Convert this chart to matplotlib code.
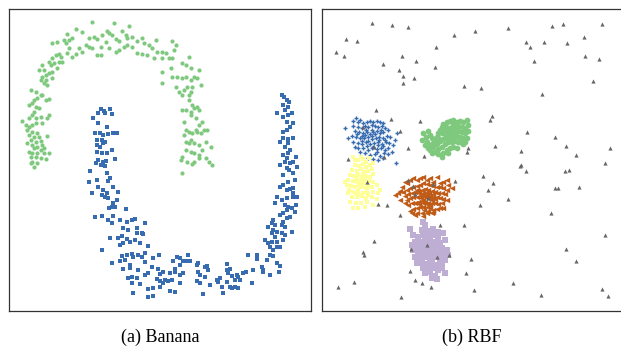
import numpy as np
import matplotlib
matplotlib.use("Agg")
import matplotlib.pyplot as plt

# point positions; each list was read from a 3x crop,
# so the numbers are crop pixels and get shifted back with to_px()

# --- Banana (crop at 9,15) ---
banana_green = [
    (250,22),(316,25),(360,33),(200,43),(220,50),(175,58),(190,70),(240,68),(255,65),(265,72),
    (280,60),(295,48),(300,55),(310,60),(320,72),(330,78),(340,48),(350,60),(355,68),(370,65),
    (385,78),(400,68),(405,85),(420,90),(430,100),(440,75),(445,110),(460,110),(470,115),(490,78),
    (495,105),(500,90),(480,130),(490,128),(460,130),(435,130),(415,120),(400,118),(385,115),(370,95),
    (355,90),(345,95),(330,105),(320,110),(300,100),(290,80),(275,95),(265,120),(275,120),(250,100),
    (240,95),(230,90),(220,110),(210,100),(200,118),(190,125),(175,115),(180,100),(170,85),(165,75),
    (180,75),(140,120),(150,118),(130,130),(120,140),(125,150),(135,145),(150,140),(145,160),(130,170),
    (120,175),(110,180),(100,185),(95,195),(105,205),(110,195),(115,210),(130,190),(100,150),(90,165),
    (105,165),(130,85),(145,80),(155,125),(160,140),
    (520,145),(530,150),(540,125),(545,158),(555,185),(570,165),(565,190),(545,195),(530,185),(520,190),
    (505,185),(490,185),(485,160),(460,170),(460,205),(500,215),(510,230),(520,240),(525,225),(535,215),
    (540,240),(545,230),(550,215),(575,210),(540,255),(550,270),(555,280),(565,275),(570,285),(545,290),
    (530,285),(520,285),(525,320),(545,300),(560,310),(570,330),(580,320),(560,345),(550,355),(540,350),
    (565,350),(575,355),(585,345),(595,345),(530,345),(525,360),(530,380),(540,385),(545,375),(555,385),
    (570,390),(590,380),(605,395),(530,405),(545,410),(555,415),(570,420),(580,405),(520,425),(515,435),
    (535,440),(550,448),(555,440),(570,430),(590,430),(600,440),(610,450),(520,475),
    (65,225),(80,232),(95,240),(85,248),(100,240),(110,255),(120,252),(75,255),(60,270),(70,265),
    (80,275),(90,280),(75,290),(70,300),(60,310),(80,310),(95,305),(120,300),(115,310),(40,318),
    (50,330),(60,335),(70,330),(80,325),(100,325),(55,345),(70,350),(85,355),(60,360),(75,365),
    (90,365),(115,362),(65,375),(80,380),(95,378),(55,385),(70,390),(85,395),(100,390),(75,400),
    (95,405),(105,400),(60,410),(70,415),(85,415),(105,415),(120,413),(65,425),(80,425),(95,430),
    (110,432),(70,440),(85,445),(75,455),(65,445),
]

# --- Banana (crop at 80,90) ---
banana_blue = [
    (62,58),(72,62),(90,58),(55,70),(75,68),(97,72),(40,85),(55,98),(80,112),(45,128),
    (60,130),(70,135),(85,132),(100,130),(110,128),(50,150),(65,150),(75,155),(50,165),(60,170),
    (70,160),(52,185),(65,190),(80,188),(95,180),(55,210),(70,215),(78,213),(62,225),(75,228),
    (48,220),(80,248),(105,208),(30,243),(28,275),(50,270),(85,272),(90,265),(55,290),(35,308),
    (70,300),(80,308),(100,292),(115,305),(65,315),(75,322),(85,325),(100,338),(110,330),(95,350),
    (105,350),(88,355),(45,380),(65,378),(98,378),(138,358),(85,390),(95,400),(120,390),(140,395),
    (155,390),(165,388),(130,415),(145,420),(170,415),(195,400),(90,445),(115,445),(125,438),(140,448),
    (130,460),(120,465),(150,455),(165,450),(180,460),(190,432),(185,428),(170,430),(205,468),(65,480),
    (195,490),(125,498),(140,495),(155,493),(175,495),(185,500),(220,505),(238,496),(95,518),(120,512),
    (135,510),(150,525),(160,500),(195,515),(215,530),(130,537),(150,535),(175,540),(205,548),(235,538),
    (240,552),(250,545),(155,560),(170,565),(145,565),(195,555),(230,568),(155,580),(180,583),(205,598),
    (220,595),(240,590),(250,580),(265,572),(275,570),(160,610),(205,620),(220,618),(270,603),(285,607),
    (290,500),(300,505),(280,512),(310,512),(325,495),(320,512),(330,512),(355,518),(350,525),(300,525),
    (285,538),(270,548),(310,548),(355,545),(375,530),(385,540),(380,528),(360,555),(375,560),(300,555),
    (285,545),(240,572),(255,570),(300,580),(350,572),(360,578),(390,585),(410,570),(420,565),(415,575),
    (370,612),(440,522),(440,540),(450,538),(445,550),(455,558),(465,570),(440,575),(450,590),(430,610),
    (425,590),(470,555),(475,562),(480,570),(455,595),(465,592),(475,595),(490,550),(498,545),(505,495),
    (520,540),(530,495),(530,508),(545,530),(550,540),(548,545),(560,510),(570,495),(515,580),(570,555),
    (580,498),(590,520),(600,528),(598,545),(590,470),(580,480),(570,470),(565,460),(575,455),(590,455),
    (555,450),(600,470),(610,450),(585,440),(575,430),(590,425),(605,428),(615,435),(580,420),(565,410),
    (575,400),(585,405),(605,405),(615,410),(580,390),(610,395),(620,385),(630,380),(635,425),(600,375),
    (610,370),(620,360),(635,355),(648,345),(645,365),(615,345),(625,350),(605,330),(585,340),(590,320),
    (620,325),(640,320),(650,320),(640,310),(620,300),(630,298),(640,295),(600,290),(610,285),(625,275),
    (645,270),(610,255),(640,250),(628,240),(650,230),(620,235),(600,225),(615,215),(630,220),(640,215),
    (648,200),(620,205),(610,195),(625,190),(630,180),(615,170),(625,160),(600,155),(610,145),(625,148),
    (640,145),(608,125),(620,120),(630,110),(640,100),(620,95),(610,80),(625,75),(635,70),(590,68),
    (615,60),(625,50),(610,45),(620,30),(628,35),(605,15),(612,22),
]

# --- RBF noise (crop at 315,0) ---
rbf_noise = [
    (170,68),(230,75),(280,80),(92,118),(125,123),(63,155),(88,168),(205,192),(262,168),(303,183),
    (363,140),(418,104),(480,92),(580,84),(712,77),(745,73),(862,73),(632,126),(645,141),(688,126),
    (755,129),(806,112),(810,168),(853,177),(658,183),(253,211),(265,229),(297,234),(265,249),(360,200),
    (446,257),(498,264),(835,242),(682,281),(182,330),(228,356),(530,349),(524,360),(314,362),(255,393),
    (637,395),(720,412),(540,437),(280,443),(458,443),(457,455),(326,467),(208,472),(100,478),(752,439),
    (784,465),(886,445),(617,453),(870,490),(619,494),(614,497),(632,513),(749,513),(762,510),(505,527),
    (534,549),(420,543),(518,569),(720,563),(728,565),(792,562),(580,597),(496,614),(278,540),(294,558),
    (353,552),(155,547),(300,582),(338,595),(188,612),(216,614),(254,646),(708,638),(376,675),(448,674),
    (870,705),(176,723),(336,734),(144,756),(146,766),(288,746),(366,771),(403,764),(752,746),(468,778),
    (782,783),(284,812),(452,820),(300,840),(320,848),(347,860),(594,848),(68,860),(116,846),(477,869),
    (678,885),(862,866),(880,888),(258,891),(143,380),(176,440),
]

# --- RBF clusters, blue and green (crop at 335,105) ---
rbf_blue = [
    (30,68),(55,48),(62,40),(68,52),(75,45),(85,55),(95,50),(105,48),(115,52),(125,48),
    (135,50),(145,55),(55,62),(70,65),(80,70),(90,62),(100,65),(110,60),(120,62),(130,65),
    (140,62),(150,68),(60,78),(72,80),(85,85),(95,80),(105,88),(115,82),(125,78),(135,85),
    (145,80),(160,75),(50,92),(62,95),(75,98),(88,100),(100,95),(112,102),(122,98),(132,95),
    (145,100),(155,92),(165,95),(180,105),(55,112),(68,115),(80,118),(92,112),(105,118),(118,115),
    (128,110),(140,118),(152,112),(162,115),(175,120),(70,130),(85,128),(98,135),(110,130),(125,132),
    (138,128),(150,135),(160,130),(90,145),(105,150),(120,148),(135,152),(148,145),(160,148),(100,160),
    (115,162),(130,165),(145,160),(182,175),(75,140),(60,125),(170,140),(185,85),(40,100),(80,108),
    (95,122),(145,122),(125,140),(110,75),(90,90),(100,108),(110,92),(120,88),(132,105),(92,75),
    (115,125),(128,120),(66,88),(82,92),(150,106),(138,74),
]
rbf_green = [
    (265,85),(272,95),(280,78),(285,90),(290,100),(262,105),(275,110),(285,120),(295,115),(300,105),
    (305,95),(310,85),(315,75),(320,65),(325,58),(335,52),(345,48),(355,45),(365,50),(375,48),
    (385,52),(395,45),(400,60),(390,68),(380,65),(370,62),(360,60),(350,65),(340,68),(330,72),
    (320,85),(330,88),(340,82),(350,80),(360,75),(370,78),(380,80),(390,85),(400,78),(395,98),
    (385,100),(375,95),(365,92),(355,95),(345,98),(335,100),(325,102),(315,108),(305,118),(295,125),
    (285,135),(300,140),(310,132),(320,125),(330,118),(340,112),(350,110),(360,108),(370,112),(380,115),
    (390,110),(345,130),(335,135),(325,145),(320,155),(340,145),(355,125),(365,128),(310,148),(290,145),
    (280,128),(270,120),(330,60),(310,98),(350,90),(385,118),(345,70),(360,88),(375,105),(355,55),
    (335,90),
]

# --- RBF yellow (crop at 340,150) ---
rbf_yellow = [
    (40,20),(55,30),(62,22),(70,28),(78,35),(88,25),(45,45),(58,48),(68,42),(78,50),
    (90,45),(100,40),(35,60),(50,62),(62,58),(72,65),(85,62),(95,58),(30,75),(42,78),
    (55,75),(65,80),(78,78),(90,80),(100,72),(25,90),(38,92),(50,95),(62,92),(72,98),
    (88,92),(98,95),(20,105),(32,108),(45,110),(58,105),(70,112),(85,108),(95,112),(110,105),
    (28,120),(40,125),(55,122),(68,128),(80,125),(100,125),(115,130),(35,140),(50,142),(65,138),
    (78,145),(95,140),(110,148),(30,155),(48,160),(62,158),(82,155),(100,165),(55,175),(40,175),
    (75,170),(120,120),(15,95),(25,130),(60,110),(45,30),(85,135),(52,85),(60,100),(75,88),
    (82,115),(68,72),(48,130),(58,135),
]

# --- RBF orange and purple (crop at 380,170) ---
rbf_orange = [
    (45,75),(55,70),(60,62),(75,35),(80,40),(90,30),(100,25),(110,30),(120,25),(130,22),
    (140,30),(150,25),(160,35),(170,22),(180,40),(190,35),(200,30),(205,45),(215,55),(200,60),
    (190,55),(180,52),(170,50),(160,48),(150,45),(140,42),(130,40),(120,45),(110,48),(100,52),
    (90,55),(80,60),(70,65),(75,78),(85,72),(95,68),(105,65),(115,62),(125,60),(135,58),
    (145,60),(155,62),(165,65),(175,68),(185,70),(195,72),(200,90),(190,88),(180,85),(170,82),
    (160,80),(150,78),(140,76),(130,75),(120,78),(110,80),(100,82),(90,85),(80,90),(75,100),
    (85,105),(95,100),(105,98),(115,95),(125,92),(135,95),(145,98),(155,100),(165,98),(175,102),
    (185,100),(190,115),(180,115),(170,118),(160,120),(150,115),(140,112),(130,110),(120,112),(110,115),
    (100,118),(90,122),(95,130),(110,130),(125,128),(140,128),(155,130),(105,135),(130,138),(160,125),
    (65,50),(110,60),(130,90),(150,88),(60,90),(118,70),(128,68),(138,68),(148,70),(158,72),
    (122,85),(135,82),(145,85),(155,90),(165,88),(128,100),(140,102),(150,105),(118,102),(132,120),
    (145,122),
]
rbf_purple = [
    (130,155),(135,165),(90,178),(125,180),(145,182),(160,178),(175,185),(190,188),(100,195),(115,200),
    (130,195),(145,200),(160,195),(175,200),(195,210),(105,215),(120,215),(135,212),(150,210),(165,215),
    (180,220),(95,225),(110,230),(125,228),(140,230),(155,228),(170,232),(185,235),(200,240),(115,245),
    (130,245),(145,245),(160,248),(175,250),(190,252),(205,255),(105,262),(120,260),(135,262),(150,265),
    (165,262),(180,268),(195,270),(110,280),(125,278),(140,282),(155,280),(170,285),(185,282),(130,295),
    (145,298),(160,295),(175,300),(195,308),(135,310),(150,305),(165,318),(155,325),(170,328),(120,270),
    (140,250),(150,240),(185,295),(100,240),(140,220),(150,222),(135,240),(160,238),(145,258),(130,285),
    (150,290),
]


def to_px(pts, ox, oy):
    a = np.array(pts, dtype=float)
    return ox + a[:, 0] / 3, oy + a[:, 1] / 3


W, H = 621, 347
fig = plt.figure(figsize=(W / 100, H / 100), dpi=100)

ax1 = fig.add_axes([9 / W, (H - 311) / H, 302 / W, 302 / H])
ax2 = fig.add_axes([322 / W, (H - 311) / H, 302 / W, 302 / H])

# Accent colours
green = "#7fc97f"
blue = "#386cb0"
yellow = "#ffff99"
orange = "#bf5b17"
purple = "#beaed4"
grey = "#666666"

x, y = to_px(banana_green, 9, 15)
ax1.scatter(x, y, s=9, c=green, marker="o", linewidths=0)
x, y = to_px(banana_blue, 80, 90)
ax1.scatter(x, y, s=8, c=blue, marker="s", linewidths=0)
ax1.set_xlim(9, 311)
ax1.set_ylim(311, 9)

x, y = to_px(rbf_blue, 335, 105)
ax2.scatter(x, y, s=9, c=blue, marker="+", linewidths=1.0)
x, y = to_px(rbf_green, 335, 105)
ax2.scatter(x, y, s=17, c=green, marker="o", linewidths=0)
x, y = to_px(rbf_yellow, 340, 150)
ax2.scatter(x, y, s=12, c=yellow, marker="s", linewidths=0)
x, y = to_px(rbf_orange, 380, 170)
ax2.scatter(x, y, s=15, c=orange, marker="<", linewidths=0)
x, y = to_px(rbf_purple, 380, 170)
ax2.scatter(x, y, s=15, c=purple, marker="s", linewidths=0)
x, y = to_px(rbf_noise, 315, 0)
ax2.scatter(x, y, s=9, c=grey, marker="^", linewidths=0, zorder=5)
ax2.set_xlim(322, 624)
ax2.set_ylim(311, 9)

for ax in (ax1, ax2):
    ax.set_xticks([])
    ax.set_yticks([])
    for sp in ax.spines.values():
        sp.set_color("#333333")
        sp.set_linewidth(0.9)

cap = dict(fontfamily="Liberation Serif", fontsize=13, ha="center", va="baseline")
fig.text(160 / W, (H - 341.5) / H, "(a) Banana", **cap)
fig.text(472 / W, (H - 341.5) / H, "(b) RBF", **cap)

fig.savefig("out.png", dpi=100)
